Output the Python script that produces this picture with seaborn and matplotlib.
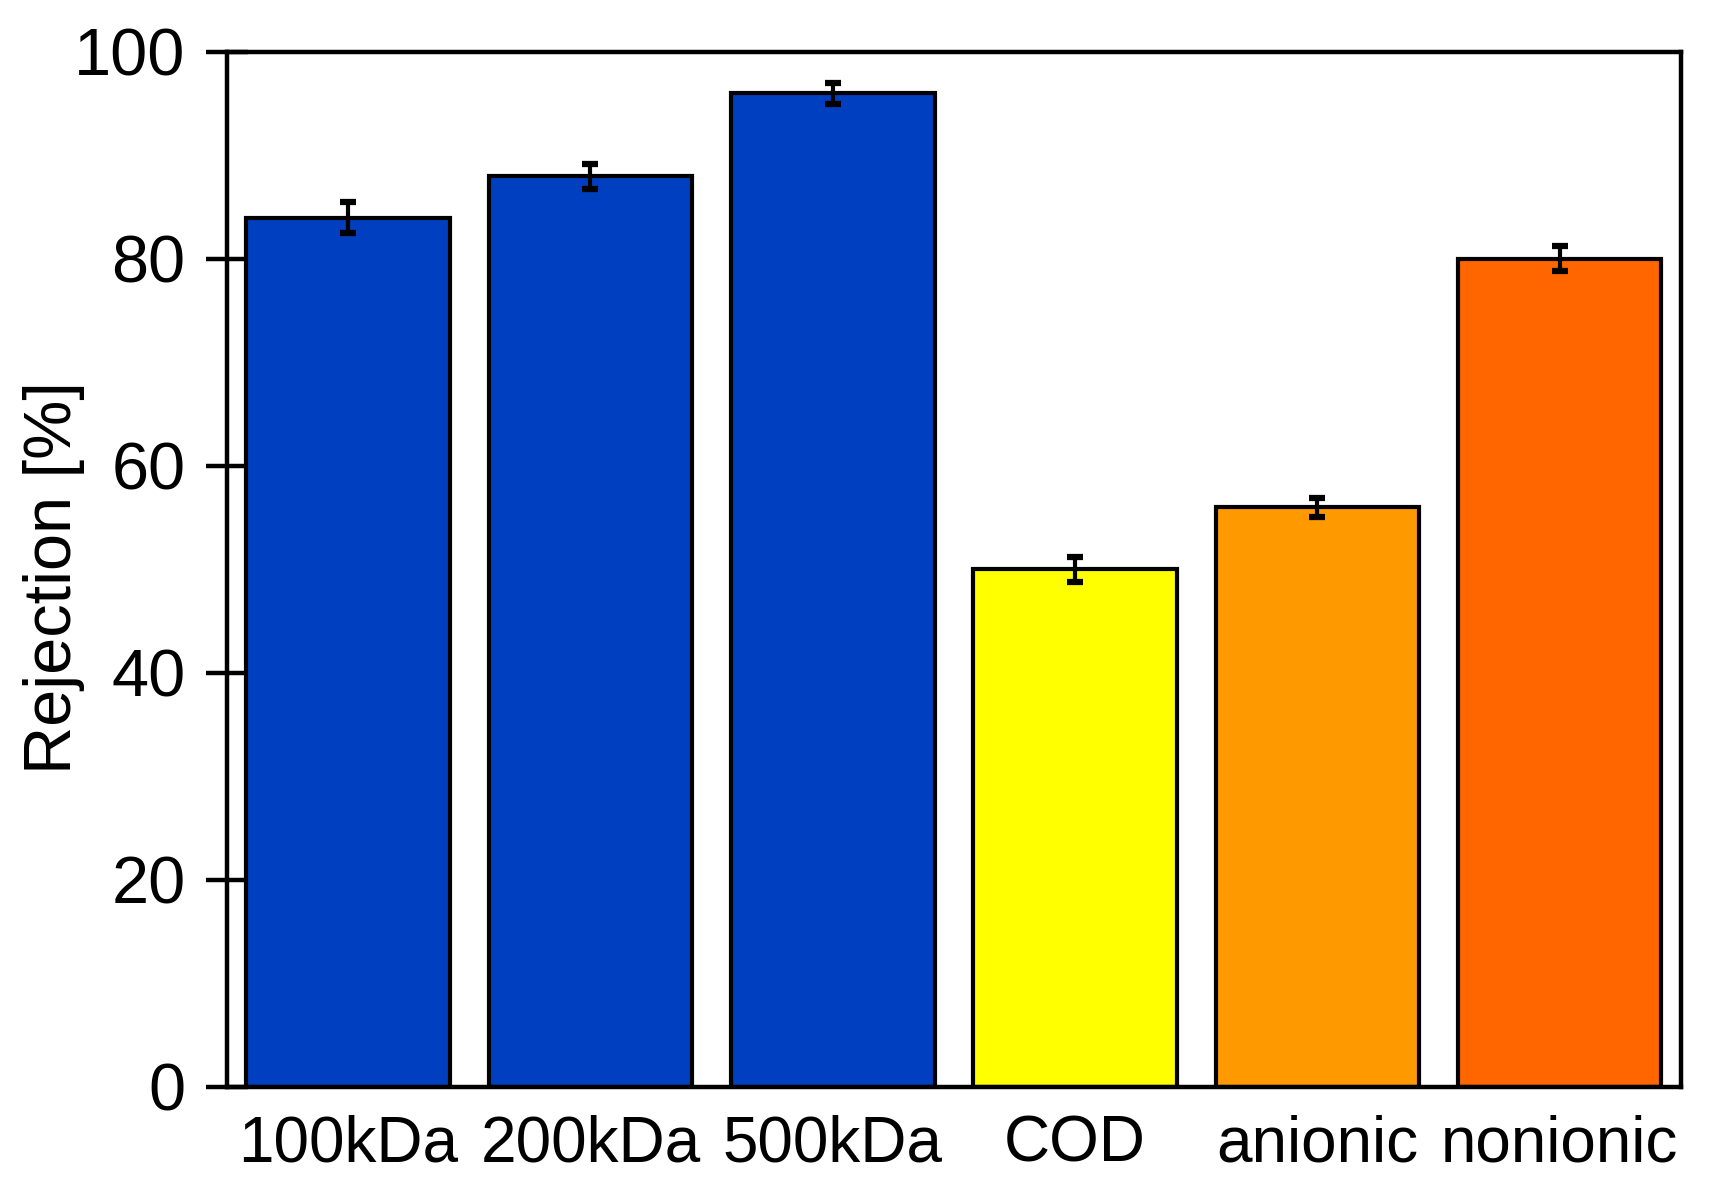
import matplotlib
matplotlib.use("Agg")
import matplotlib.pyplot as plt
import seaborn as sns

# Data
categories = ["100kDa", "200kDa", "500kDa", "COD", "anionic", "nonionic"]
rejection = [84, 88, 96, 50, 56, 80]
rejection_err = [1.5, 1.2, 1.0, 1.2, 0.9, 1.2]
bar_colors = ["#0040C0", "#0040C0", "#0040C0", "#FFFF00", "#FF9900", "#FF6600"]
y_ticks = [0, 20, 40, 60, 80, 100]

sns.set_theme(style="white")
plt.rcParams['font.family'] = ['Liberation Sans', 'DejaVu Sans']
plt.rcParams['text.color'] = 'black'
plt.rcParams['axes.labelcolor'] = 'black'
plt.rcParams['xtick.color'] = 'black'
plt.rcParams['ytick.color'] = 'black'

fig = plt.figure(figsize=(17.15, 11.98), dpi=100)
ax = fig.add_axes([0.1324, 0.093, 0.8476, 0.8636])

sns.barplot(x=categories, y=rejection, hue=categories, palette=bar_colors,
            edgecolor="black", linewidth=3.0, width=0.84, saturation=1,
            legend=False, ax=ax)
ax.errorbar(x=range(len(categories)), y=rejection, yerr=rejection_err,
            fmt="none", ecolor="black", elinewidth=3.0, capsize=6, capthick=4.5)

ax.set_xlim(-0.5, len(categories) - 0.5)
ax.set_ylim(0, 100)
ax.set_yticks(y_ticks)
ax.set_ylabel("Rejection [%]", fontsize=48)
ax.yaxis.set_label_coords(-0.098, 0.492)
ax.set_xlabel("")

ax.tick_params(axis="y", direction="inout", length=30, width=3.2,
               labelsize=48, pad=15, left=True)
ax.tick_params(axis="x", length=0, labelsize=46, pad=20)

for side in ["left", "right", "top", "bottom"]:
    ax.spines[side].set_visible(True)
    ax.spines[side].set_color("black")
    ax.spines[side].set_linewidth(3.2)

fig.savefig("out.png", dpi=100, facecolor="white")
